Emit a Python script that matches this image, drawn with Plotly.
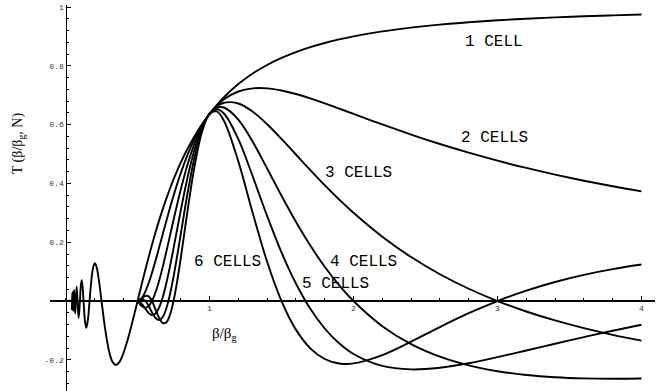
import plotly.graph_objects as go

# beta/beta_g values
x_one = [0.010, 0.0417, 0.04348, 0.0455,
         0.04762, 0.050, 0.05263, 0.0556, 0.05882, 0.0625, 0.06667, 0.0714, 0.07692, 0.0833,
         0.09091, 0.100, 0.105, 0.1117, 0.118, 0.125, 0.135, 0.1441, 0.155, 0.1667, 0.175,
         0.190, 0.2033, 0.215, 0.235, 0.250, 0.275, 0.300, 0.325, 0.350, 0.375, 0.400,
         0.425, 0.450, 0.475, 0.500, 0.525, 0.550, 0.575, 0.600, 0.625, 0.650, 0.675,
         0.700, 0.725, 0.750, 0.775, 0.800, 0.850, 0.900, 0.950, 1.000, 1.050, 1.100,
         1.200, 1.300, 1.400, 1.500, 1.600, 1.700, 1.800, 1.900, 2.000, 2.200, 2.400,
         2.600, 2.800, 3.000, 3.200, 3.400, 3.600, 3.800, 4.000]
t_one = [0.0, 0.0, -0.0277, 0.0,
         0.0303, 0.0, -0.0335, 0.0, 0.0375, 0.0, -0.0424, 0.0, 0.0490, 0.0,
         -0.0579, 0.0, 0.0455, 0.0709, 0.0509, 0.0, -0.0690, -0.0913, -0.0643, 0.0, 0.0483,
         0.1108, 0.1284, 0.1168, 0.0584, 0.0, -0.0947, -0.1654, -0.2054, -0.2172, -0.2068, -0.1801,
         -0.1424, -0.0980, -0.0498, 0.0, 0.0498, 0.0987, 0.1458, 0.1910, 0.2339, 0.2744, 0.3125,
         0.3484, 0.3821, 0.4135, 0.4430, 0.4705, 0.5205, 0.5643, 0.6027, 0.6366, 0.6666, 0.6932,
         0.7379, 0.7738, 0.8030, 0.8270, 0.8469, 0.8637, 0.8778, 0.8899, 0.9003, 0.9172, 0.9301,
         0.9403, 0.9484, 0.9549, 0.9603, 0.9648, 0.9686, 0.9717, 0.9745]

x_multi = [0.500, 0.525, 0.550, 0.575, 0.600, 0.625, 0.650, 0.675, 0.700, 0.725, 0.750,
           0.775, 0.800, 0.850, 0.900, 0.950, 1.000, 1.050, 1.100, 1.200, 1.300, 1.400,
           1.500, 1.600, 1.700, 1.800, 1.900, 2.000, 2.200, 2.400, 2.600, 2.800, 3.000,
           3.200, 3.400, 3.600, 3.800, 4.000]
t_two = [0.0, 0.0074, 0.0278, 0.0581, 0.0955, 0.1375, 0.1820, 0.2273, 0.2724, 0.3163, 0.3581,
         0.3978, 0.4347, 0.5007, 0.5557, 0.6007, 0.6366, 0.6647, 0.6861, 0.7128, 0.7235, 0.7235,
         0.7162, 0.7042, 0.6892, 0.6725, 0.6547, 0.6366, 0.6006, 0.5662, 0.5341, 0.5046, 0.4775,
         0.4527, 0.4301, 0.4093, 0.3903, 0.3729]
t_three = [0.0, -0.0151, -0.0224, -0.0178, 0.0, 0.0298, 0.0694, 0.1162, 0.1678, 0.2217, 0.2757,
           0.3286, 0.3787, 0.4687, 0.5416, 0.5972, 0.6366, 0.6616, 0.6744, 0.6720, 0.6441, 0.6015,
           0.5513, 0.4984, 0.4455, 0.3942, 0.3456, 0.3001, 0.2187, 0.1496, 0.0911, 0.0418, 0.0,
           -0.0356, -0.0660, -0.0922, -0.1149, -0.1346]
t_four = [0.0, -0.0071, -0.0234, -0.0397, -0.0478, -0.0425, -0.0219, 0.0131, 0.0606, 0.1172, 0.1791,
          0.2437, 0.3074, 0.4259, 0.5222, 0.5925, 0.6366, 0.6573, 0.6583, 0.6173, 0.5416, 0.4511,
          0.3581, 0.2695, 0.1886, 0.1168, 0.0541, 0.0, -0.0855, -0.1466, -0.1894, -0.2189, -0.2387,
          -0.2515, -0.2592, -0.2631, -0.2644, -0.2637]
t_five = [0.0, 0.0074, 0.0029, -0.0146, -0.0382, -0.0578, -0.0649, -0.0544, -0.0249, 0.0221, 0.0827,
          0.1530, 0.2272, 0.3742, 0.4978, 0.5864, 0.6366, 0.6518, 0.6379, 0.5508, 0.4238, 0.2894,
          0.1654, 0.0595, -0.0265, -0.0934, -0.1437, -0.1801, -0.2208, -0.2325, -0.2268, -0.2115, -0.1910,
          -0.1683, -0.1452, -0.1226, -0.1010, -0.0807]
t_six = [0.0, 0.0066, 0.0170, 0.0167, 0.0, -0.0283, -0.0571, -0.0748, -0.0728, -0.0476, 0.0,
         0.0665, 0.1449, 0.3160, 0.4690, 0.5790, 0.6366, 0.6450, 0.6135, 0.4752, 0.2993, 0.1338,
         0.0, -0.0972, -0.1609, -0.1971, -0.2123, -0.2122, -0.1840, -0.1382, -0.0885, -0.0415, 0.0,
         0.0354, 0.0649, 0.0891, 0.1086, 0.1243]

labels = ["1 CELL", "2 CELLS", "3 CELLS", "4 CELLS", "5 CELLS", "6 CELLS"]
label_x = [2.976, 2.976, 2.038, 2.066, 1.878, 1.128]
label_y = [0.881, 0.554, 0.435, 0.133, 0.058, 0.133]

y_tick_vals = [-0.2, 0.2, 0.4, 0.6, 0.8, 1.0]
y_tick_text = ["-0.2", "0.2", "0.4", "0.6", "0.8", "1"]
x_tick_vals = [1, 2, 3, 4]
x_tick_text = ["1", "2", "3", "4"]

fig = go.Figure()
series = [(x_one, t_one)] + [(x_multi, t) for t in (t_two, t_three, t_four, t_five, t_six)]
for (xs, ys), name in zip(series, labels):
    fig.add_trace(go.Scatter(x=xs, y=ys, mode="lines", name=name,
                             line=dict(color="black", width=1.9, shape="spline", smoothing=1.0),
                             showlegend=False, hoverinfo="skip"))

for txt, lx, ly in zip(labels, label_x, label_y):
    fig.add_annotation(x=lx, y=ly, xref="x", yref="y", text=txt, showarrow=False,
                       xanchor="center", yanchor="middle",
                       font=dict(family="Liberation Mono", size=16, color="black"))

fig.add_annotation(x=-0.0529, y=0.642, xref="paper", yref="paper", textangle=-90,
                   xanchor="center", yanchor="middle",
                   text="T (β/β<sub>g</sub>, N)", showarrow=False,
                   font=dict(family="Liberation Serif", size=14, color="black"))
fig.add_annotation(x=0.289, y=0.148, xref="paper", yref="paper",
                   xanchor="center", yanchor="middle",
                   text="β/β<sub>g</sub>", showarrow=False,
                   font=dict(family="Liberation Serif", size=15, color="black"))

tick_font = dict(family="Liberation Mono", size=8, color="#333")
fig.update_layout(
    width=667, height=391,
    margin=dict(l=50, r=12, t=5, b=0),
    paper_bgcolor="white", plot_bgcolor="white",
    xaxis=dict(range=[-0.108, 4.094], showgrid=False, zeroline=False, showline=True,
               linecolor="black", linewidth=1.6, anchor="free", position=0.2331, side="bottom",
               ticks="inside", ticklen=4, tickwidth=1, tickcolor="black",
               tickmode="array", tickvals=x_tick_vals, ticktext=x_tick_text, tickfont=tick_font,
               minor=dict(ticks="inside", ticklen=2, tickwidth=1, tickcolor="black",
                          tickmode="linear", tick0=0, dtick=0.2),
               automargin=False, fixedrange=True),
    yaxis=dict(range=[-0.306, 1.007], showgrid=False, zeroline=False, showline=True,
               linecolor="black", linewidth=1.4, anchor="free", position=0.0257, side="left",
               ticks="inside", ticklen=4, tickwidth=1, tickcolor="black",
               tickmode="array", tickvals=y_tick_vals, ticktext=y_tick_text, tickfont=tick_font,
               minor=dict(ticks="inside", ticklen=2, tickwidth=1, tickcolor="black",
                          tickmode="linear", tick0=0, dtick=0.04),
               automargin=False, fixedrange=True),
)

fig.write_html("out.html", config={"displayModeBar": False},
               post_script="document.body.style.margin='0px';")
